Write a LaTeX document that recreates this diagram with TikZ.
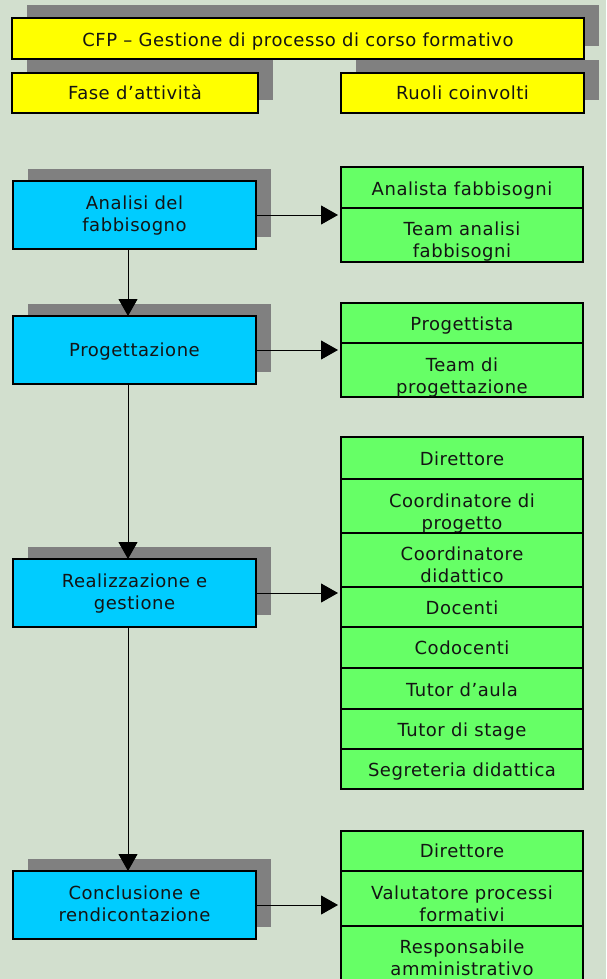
\documentclass[tikz,border=0pt]{standalone}
\usepackage{fontspec}
\setmainfont{DejaVu Sans}[LetterSpace=3]
\usetikzlibrary{arrows.meta,shadows,backgrounds}

\definecolor{bgc}{RGB}{210,223,206}
\definecolor{shc}{RGB}{128,128,128}
\definecolor{yel}{RGB}{255,255,0}
\definecolor{cyanbox}{RGB}{0,204,255}
\definecolor{grn}{RGB}{102,255,102}
\definecolor{ink}{RGB}{20,20,20}

% two centred lines whose baseline is the first line
\newcommand\twolines[2]{\begin{tabular}[t]{@{}c@{}}#1\\#2\end{tabular}}

\begin{document}
\begin{tikzpicture}[x=1pt,y=-1pt,
  box/.style={draw=black, line width=1.3pt, anchor=north west, inner sep=0pt,
    outer sep=0pt, text=ink, font=\fontsize{18}{22}\selectfont},
  sz/.style n args={3}{minimum height=#1pt, text height=#2pt, text depth=#3pt},
  shadowed/.style={general shadow={draw=none, fill=shc, shadow xshift=15pt, shadow yshift=12.5pt}},
  yellowbox/.style={box, shadowed, fill=yel},
  phase/.style={box, shadowed, fill=cyanbox, minimum width=243pt},
  role/.style={box, fill=grn, minimum width=242pt},
  flow/.style={draw=black, line width=1pt, -{Triangle[length=17pt,width=19pt]}},
  stackshadow/.style={fill=shc},
]
\begin{scope}[on background layer]
  \fill[bgc] (0,0) rectangle (606,979);
\end{scope}
\useasboundingbox (0,0) rectangle (606,979);

% headings
\node[yellowbox, minimum width=572pt, sz={41}{28.7}{12.3}] (hdr) at (12,18)
  {CFP – Gestione di processo di corso formativo};
\node[yellowbox, minimum width=246pt, sz={40}{27}{13}] (fase) at (12,73) {Fase d’attività};
\node[yellowbox, minimum width=243pt, sz={40}{27}{13}] (ruoli) at (341,73) {Ruoli coinvolti};

% phases
\node[phase, sz={68}{28}{40}] (p1) at (13,181) {\twolines{Analisi del}{fabbisogno}};
\node[phase, sz={68}{40.7}{27.3}] (p2) at (13,316) {Progettazione};
\node[phase, sz={68}{28}{40}] (p3) at (13,559) {\twolines{Realizzazione e}{gestione}};
\node[phase, sz={68}{28}{40}] (p4) at (13,871) {\twolines{Conclusione e}{rendicontazione}};

% roles of phase 1
\node[role, sz={41}{28}{13}] (r1a) at (341,167) {Analista fabbisogni};
\node[role, sz={54}{27}{27}] (r1b) at (341,208) {\twolines{Team analisi}{fabbisogni}};

% roles of phase 2
\node[role, sz={40}{27}{13}] (r2a) at (341,303) {Progettista};
\node[role, sz={54}{28.5}{25.5}] (r2b) at (341,343) {\twolines{Team di}{progettazione}};

% roles of phase 3
\node[role, sz={42}{28}{14}] (r3a) at (341,437) {Direttore};
\node[role, sz={54}{28}{26}] (r3b) at (341,479) {\twolines{Coordinatore di}{progetto}};
\node[role, sz={54}{27.5}{26.5}] (r3c) at (341,533) {\twolines{Coordinatore}{didattico}};
\node[role, sz={40}{27}{13}] (r3d) at (341,587) {Docenti};
\node[role, sz={41}{27.3}{13.7}] (r3e) at (341,627) {Codocenti};
\node[role, sz={41}{28}{13}] (r3f) at (341,668) {Tutor d’aula};
\node[role, sz={40}{27}{13}] (r3g) at (341,709) {Tutor di stage};
\node[role, sz={40}{27.7}{12.3}] (r3h) at (341,749) {Segreteria didattica};

% roles of phase 4
\node[role, sz={40}{26.5}{13.5}] (r4a) at (341,831) {Direttore};
\node[role, sz={55}{28.3}{26.7}] (r4b) at (341,871) {\twolines{Valutatore processi}{formativi}};
\node[role, sz={55}{27.3}{27.7}] (r4c) at (341,926) {\twolines{Responsabile}{amministrativo}};

% shadows behind the role stacks
\begin{scope}[on background layer, shift={(15pt,12.5pt)}]
  \fill[stackshadow] (r1a.north west) rectangle (r1b.south east);
  \fill[stackshadow] (r2a.north west) rectangle (r2b.south east);
  \fill[stackshadow] (r3a.north west) rectangle (r3h.south east);
  \fill[stackshadow] (r4a.north west) rectangle (r4c.south east);
\end{scope}

% sequence of phases
\draw[flow] ([xshift=115pt]p1.south west) -- ([xshift=115pt]p2.north west);
\draw[flow] ([xshift=115pt]p2.south west) -- ([xshift=115pt]p3.north west);
\draw[flow] ([xshift=115pt]p3.south west) -- ([xshift=115pt]p4.north west);

% phase to roles
\draw[flow] (p1.east) -- ([xshift=-3pt]p1.east -| r1a.west);
\draw[flow] (p2.east) -- ([xshift=-3pt]p2.east -| r2a.west);
\draw[flow] (p3.east) -- ([xshift=-3pt]p3.east -| r3a.west);
\draw[flow] (p4.east) -- ([xshift=-3pt]p4.east -| r4a.west);
\end{tikzpicture}
\end{document}
